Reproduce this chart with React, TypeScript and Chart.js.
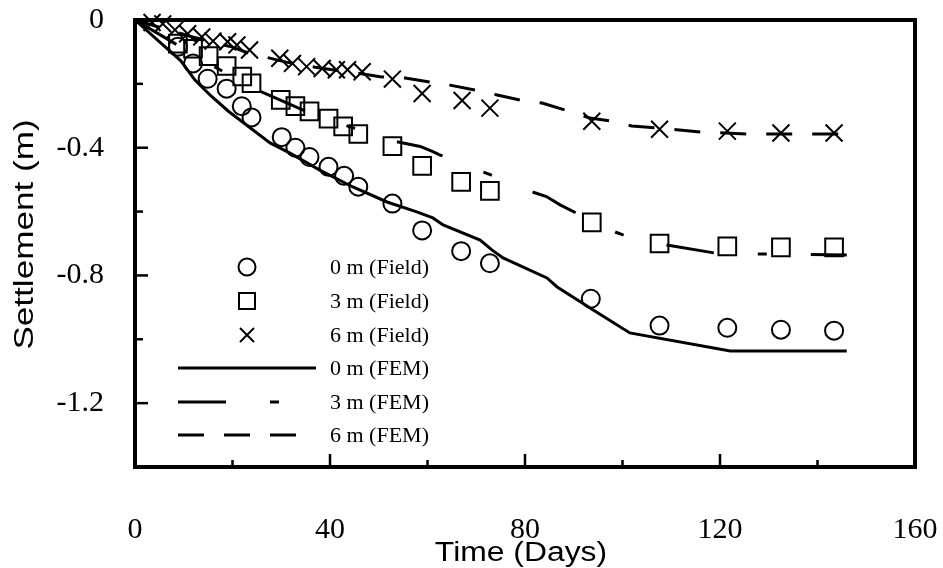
import React, { useEffect, useRef } from "react";
import { Chart, registerables } from "chart.js";

Chart.register(...registerables);

// ---- Data ----
const field0Days = [8.8, 11.9, 14.9, 18.8, 21.9, 23.9, 30.1, 32.9, 35.8, 39.7, 42.9, 45.8, 52.8, 58.9, 66.9, 72.8, 93.5, 107.6, 121.5, 132.5, 143.4];
const field0Vals = [-0.084, -0.136, -0.184, -0.215, -0.27, -0.305, -0.367, -0.4, -0.429, -0.46, -0.488, -0.522, -0.575, -0.659, -0.724, -0.762, -0.873, -0.957, -0.964, -0.97, -0.973];

const field3Days = [8.8, 11.9, 15.1, 18.8, 22, 23.9, 29.9, 32.9, 35.8, 39.7, 42.7, 45.8, 52.8, 58.9, 66.9, 72.8, 93.7, 107.6, 121.5, 132.5, 143.4];
const field3Vals = [-0.074, -0.09, -0.113, -0.144, -0.177, -0.198, -0.25, -0.27, -0.286, -0.309, -0.333, -0.357, -0.395, -0.457, -0.507, -0.535, -0.634, -0.7, -0.709, -0.712, -0.712];

const field6Days = [3.5, 5.7, 8.2, 10.8, 13.7, 16, 19, 20.9, 23.5, 29.7, 32.3, 35.2, 38.4, 41.3, 43.6, 46.6, 52.8, 58.9, 67.1, 72.8, 93.7, 107.6, 121.5, 132.5, 143.4];
const field6Vals = [-0.008, -0.012, -0.031, -0.043, -0.053, -0.066, -0.068, -0.078, -0.094, -0.12, -0.136, -0.146, -0.152, -0.156, -0.156, -0.162, -0.185, -0.23, -0.252, -0.276, -0.317, -0.342, -0.348, -0.354, -0.354];

const fem0Days = [0, 9.4, 12.3, 15.6, 19.1, 27.7, 31.8, 37.9, 44.7, 51.7, 57.8, 61.1, 63.2, 70.8, 73.2, 75.5, 84.5, 86.6, 94, 101.5, 122.1, 146];
const fem0Vals = [0, -0.128, -0.188, -0.238, -0.285, -0.385, -0.417, -0.47, -0.523, -0.57, -0.601, -0.62, -0.642, -0.689, -0.72, -0.745, -0.808, -0.836, -0.908, -0.98, -1.037, -1.037];

const fem3Days = [0, 5, 10, 15, 20, 25, 34.5, 43.8, 53.7, 58.5, 61.1, 62.6, 71.4, 73, 81.4, 84.4, 87.2, 90.3, 98.5, 100.1, 109.1, 119, 128.8, 146];
const fem3Vals = [0, -0.045, -0.09, -0.135, -0.178, -0.219, -0.282, -0.333, -0.381, -0.396, -0.412, -0.423, -0.476, -0.485, -0.538, -0.553, -0.579, -0.603, -0.664, -0.673, -0.705, -0.73, -0.733, -0.736];

const fem6Days = [0, 4, 8, 12, 16, 20, 23.5, 27, 31, 37, 41.5, 45.5, 50.3, 55.4, 60.5, 64.6, 69.7, 74.3, 79, 83.5, 88.2, 93.3, 97.4, 101.9, 107.1, 116.3, 125.7, 145.6];
const fem6Vals = [0, -0.018, -0.036, -0.054, -0.07, -0.085, -0.105, -0.117, -0.132, -0.148, -0.158, -0.166, -0.178, -0.182, -0.194, -0.204, -0.219, -0.235, -0.251, -0.26, -0.282, -0.307, -0.316, -0.332, -0.338, -0.351, -0.357, -0.357];

const legendLabels = ["0 m (Field)", "3 m (Field)", "6 m (Field)", "0 m (FEM)", "3 m (FEM)", "6 m (FEM)"];
const xTitle = "Time (Days)";
const yTitle = "Settlement (m)";
const xMinorTicks = [0, 20, 40, 60, 80, 100, 120, 140, 160];
const yMinorTicks = [0, -0.2, -0.4, -0.6, -0.8, -1.0, -1.2, -1.4];

const DASH3 = [48, 44, 9, 44];
const DASH6 = [26, 20];

const pts = (xs: number[], ys: number[]) => xs.map((x, i) => ({ x, y: ys[i] }));

const SERIF = '"Liberation Serif", "Times New Roman", serif';
const SANS = '"Liberation Sans", Arial, sans-serif';

function drawMarker(ctx: CanvasRenderingContext2D, kind: string, x: number, y: number, r: number) {
  ctx.beginPath();
  if (kind === "circle") {
    ctx.arc(x, y, r, 0, Math.PI * 2);
  } else if (kind === "rect") {
    ctx.rect(x - r, y - r, 2 * r, 2 * r);
  } else {
    ctx.moveTo(x - r, y - r);
    ctx.lineTo(x + r, y + r);
    ctx.moveTo(x - r, y + r);
    ctx.lineTo(x + r, y - r);
  }
  ctx.stroke();
}

const framePlugin = {
  id: "frameAndLegend",
  afterDatasetsDraw(chart: any) {
    const { ctx, chartArea: a, scales } = chart;
    ctx.save();
    ctx.strokeStyle = "#000";
    ctx.lineCap = "butt";
    // ticks (inward)
    ctx.lineWidth = 2.5;
    xMinorTicks.forEach((v) => {
      const px = scales.x.getPixelForValue(v);
      const len = v % 40 === 0 ? 13 : 7;
      ctx.beginPath();
      ctx.moveTo(px, a.bottom);
      ctx.lineTo(px, a.bottom - len);
      ctx.stroke();
    });
    yMinorTicks.forEach((v) => {
      const py = scales.y.getPixelForValue(v);
      const major = Math.abs(v / 0.4 - Math.round(v / 0.4)) < 1e-6;
      const len = major ? 13 : 8;
      ctx.beginPath();
      ctx.moveTo(a.left, py);
      ctx.lineTo(a.left + len, py);
      ctx.stroke();
    });
    // frame
    ctx.lineWidth = 4;
    ctx.strokeRect(a.left, a.top, a.right - a.left, a.bottom - a.top);

    // axis titles (slightly stretched along the baseline like the source figure)
    ctx.fillStyle = "#000";
    ctx.font = `27px ${SANS}`;
    ctx.textAlign = "center";
    ctx.textBaseline = "middle";
    ctx.save();
    ctx.translate((a.left + a.right) / 2 - 4, 554);
    ctx.scale(1.18, 1);
    ctx.fillText(xTitle, 0, 0);
    ctx.restore();
    ctx.save();
    ctx.translate(26, (a.top + a.bottom) / 2 - 9);
    ctx.rotate(-Math.PI / 2);
    ctx.scale(1.3, 1);
    ctx.fillText(yTitle, 0, 0);
    ctx.restore();

    // legend
    const lx0 = a.left + 43;
    const lx1 = a.left + 181;
    const mx = a.left + 112;
    const tx = a.left + 195;
    const rowY = [267, 301, 335, 368, 402, 435];
    ctx.font = `22px ${SERIF}`;
    ctx.textBaseline = "middle";
    ctx.textAlign = "left";
    const kinds = ["circle", "rect", "cross"];
    for (let i = 0; i < 6; i++) {
      const y = rowY[i];
      if (i < 3) {
        ctx.lineWidth = 2;
        ctx.setLineDash([]);
        drawMarker(ctx, kinds[i], mx, y, i === 0 ? 8.5 : i === 1 ? 8 : 7);
      } else {
        ctx.lineWidth = 3;
        ctx.setLineDash(i === 3 ? [] : i === 4 ? DASH3 : DASH6);
        ctx.beginPath();
        ctx.moveTo(lx0, y);
        ctx.lineTo(lx1, y);
        ctx.stroke();
        ctx.setLineDash([]);
      }
      ctx.fillText(legendLabels[i], tx, y + 1);
    }
    ctx.restore();
  },
};

const zeroPad = (s: any) => {
  s.paddingLeft = 0;
  s.paddingRight = 0;
  s.paddingTop = 0;
  s.paddingBottom = 0;
};

export default function App() {
  const ref = useRef<HTMLCanvasElement>(null);
  useEffect(() => {
    if (!ref.current) return;
    const markerBase = {
      type: "scatter" as const,
      showLine: false,
      borderColor: "#000",
      backgroundColor: "rgba(0,0,0,0)",
      pointBorderWidth: 2,
      clip: false as any,
    };
    const lineBase = {
      type: "scatter" as const,
      showLine: true,
      borderColor: "#000",
      backgroundColor: "rgba(0,0,0,0)",
      borderWidth: 3,
      pointRadius: 0,
      tension: 0,
      clip: false as any,
    };
    const chart = new Chart(ref.current, {
      type: "scatter",
      data: {
        datasets: [
          { ...lineBase, label: "0 m (FEM)", data: pts(fem0Days, fem0Vals) },
          { ...lineBase, label: "3 m (FEM)", data: pts(fem3Days, fem3Vals), borderDash: DASH3 },
          { ...lineBase, label: "6 m (FEM)", data: pts(fem6Days, fem6Vals), borderDash: DASH6 },
          { ...markerBase, label: "0 m (Field)", data: pts(field0Days, field0Vals), pointStyle: "circle", pointRadius: 9 },
          { ...markerBase, label: "3 m (Field)", data: pts(field3Days, field3Vals), pointStyle: "rect", pointRadius: 12.5 },
          { ...markerBase, label: "6 m (Field)", data: pts(field6Days, field6Vals), pointStyle: "crossRot", pointRadius: 12 },
        ] as any,
      },
      options: {
        animation: false,
        responsive: false,
        events: [],
        layout: { padding: { top: 20, right: 28, left: 0, bottom: 0 } },
        plugins: { legend: { display: false }, tooltip: { enabled: false } },
        scales: {
          x: {
            type: "linear",
            min: 0,
            max: 160,
            grid: { display: false },
            border: { display: false },
            ticks: {
              stepSize: 40,
              color: "#000",
              padding: 40,
              maxRotation: 0,
              font: { family: SERIF, size: 30, lineHeight: 1 },
            },
            title: { display: false },
            afterFit: (s: any) => {
              s.height = 101;
              zeroPad(s);
            },
          },
          y: {
            type: "linear",
            min: -1.4,
            max: 0,
            grid: { display: false },
            border: { display: false },
            ticks: {
              stepSize: 0.4,
              color: "#000",
              padding: 23,
              font: { family: SERIF, size: 30, lineHeight: 1 },
              callback: (v: any) => {
                const n = Number(v);
                if (Math.abs(n / 0.4 - Math.round(n / 0.4)) > 1e-6) return "";
                if (Math.abs(n) < 1e-9) return "0";
                return n.toFixed(1);
              },
            },
            title: { display: false },
            afterFit: (s: any) => {
              s.width = 135;
              zeroPad(s);
            },
          },
        },
      } as any,
      plugins: [framePlugin],
    });
    return () => chart.destroy();
  }, []);
  return (
    <div style={{ position: "absolute", left: 0, top: 0, width: 943, height: 568, background: "#fff" }}>
      <canvas ref={ref} width={943} height={568} style={{ display: "block" }} />
    </div>
  );
}
